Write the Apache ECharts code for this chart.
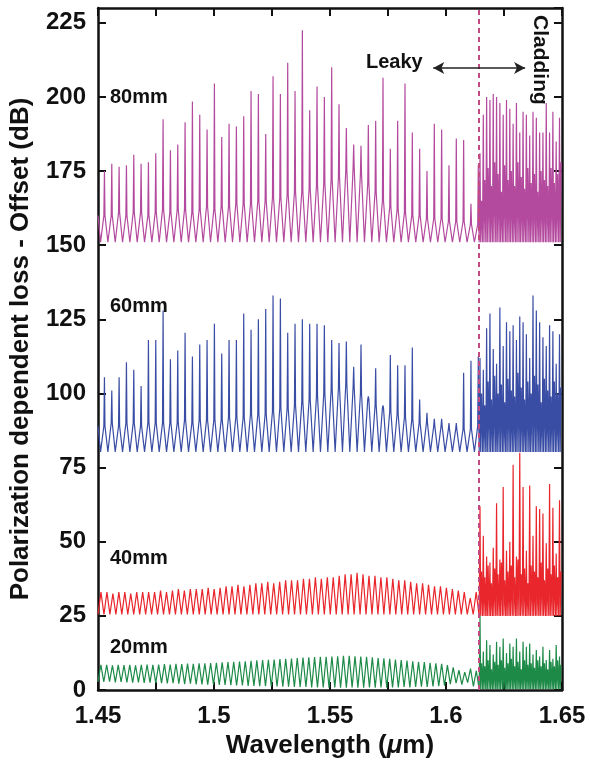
<!DOCTYPE html>
<html>
<head>
<meta charset="utf-8">
<script src="https://cdn.jsdelivr.net/npm/echarts@6/dist/echarts.min.js"></script>
<style>
  html, body { margin: 0; padding: 0; background: #fff; }
  #chart { width: 590px; height: 766px; }
</style>
</head>
<body>
<div id="chart"></div>
<script>
/**
 *  PDL spectra of the grating for four lengths (offset stacked)
 */

var X_MIN = 1.45, X_MAX = 1.65;
var CUT = 1.6143;            // leaky / cladding boundary (dashed line)
var xTicks = ['1.45', '1.5', '1.55', '1.6', '1.65'];

// ---- 80 mm (offset 150 dB) ----
var trough80 = 151;
var base80 = [160, 160, 161, 160, 161, 161, 160, 161, 162, 161,
              162, 162, 161, 162, 163, 162, 163, 163, 164, 164,
              164, 165, 165, 166, 166, 167, 168, 168, 169, 170,
              171, 172, 173, 175, 176, 174, 171, 168, 165, 163,
              162, 161, 160, 160, 159, 159, 159, 158, 158, 158, 157, 157];
var spike80 = [175, 177.5, 176.5, 177, 180.5, 177.5, 178, 181, 192.5, 182,
               184, 191.5, 198.5, 194, 189, 204.5, 186.5, 191, 190, 193.5,
               202, 201, 187.5, 207, 201, 211.5, 202, 222.5, 195.5, 203.5,
               200, 210, 197.5, 189.5, 184, 183.5, 190.5, 192, 206.5, 182.5,
               192, 204.5, 188, 182.5, 175, 191, 189, 177, 186, 185.5, 164, 177];
var cladTop80 = [181, 194, 200, 199, 201, 200, 198, 194, 199, 196, 191, 198, 188,
                 195, 194, 187, 195, 193, 188, 188, 198, 188, 195, 185, 193];
var cladMid80 = [165, 172, 176, 170, 178, 174, 168, 177, 172, 175, 170, 178, 173,
                 169, 176, 171, 174, 168, 175, 172, 170, 176, 171, 174, 178];

// ---- 60 mm (offset 80 dB) ----
var trough60 = 80.3;
var base60 = [89, 90, 89, 90, 90, 89, 90, 90, 90, 90,
              90, 91, 90, 91, 91, 91, 91, 92, 92, 92,
              93, 93, 93, 94, 95, 95, 96, 97, 98, 99,
              100, 101, 102, 103, 102, 100, 98, 96, 95, 94,
              93, 92, 91, 90, 90, 89, 89, 88, 88, 88, 88, 89];
var spike60 = [105.5, 101, 105.5, 110.5, 108, 102.5, 118, 118, 128, 111.5,
               114.5, 120.5, 112.5, 116.5, 118, 123.5, 113.5, 118, 118, 127,
               121.5, 125, 128.5, 133, 132, 120.5, 123.5, 125, 123.5, 123.5,
               123, 118, 117, 117.5, 109, 116.5, 99, 108.5, 96, 113,
               109.5, 109.5, 115.5, 98, 93.5, 91.5, 91.5, 90, 90, 107, 111, 112.5];
var cladTop60 = [112, 108, 122, 127, 115, 110, 129, 116, 124, 121, 123, 118, 126,
                 124, 120, 112, 133, 128, 124, 119, 116, 123, 121, 110, 120];
var cladMid60 = [100, 96, 104, 98, 106, 100, 103, 97, 105, 101, 99, 107, 102,
                 98, 104, 100, 106, 103, 97, 105, 101, 99, 104, 100, 102];

// ---- 40 mm (offset 25 dB) ----
var trough40 = 25.5;
var peak40 = [33, 33, 32.5, 33, 33, 32.5, 33, 33, 33, 33,
              33.5, 33, 33.5, 34, 33.5, 34, 34, 34, 34.5, 34,
              34.5, 35, 35, 35.5, 35, 35.5, 36, 36, 36.5, 36,
              36.5, 37, 37, 37, 37.5, 37.5, 38, 37.5, 38, 38,
              38.5, 39, 39, 39.5, 39, 38.5, 38.5, 38, 38, 37.5,
              37, 37, 36.5, 36, 36, 35.5, 35, 35, 34.5, 34,
              33.5, 33, 31, 33];
var cladTrough40 = 25;
var cladTop40 = [62, 52, 45, 43, 48, 63, 44, 68.5, 47, 50, 76, 45, 80,
                 68.5, 47, 69, 52, 62, 61, 59.5, 49.5, 69.5, 61.5, 46, 64];
var cladMid40 = [40, 38, 42, 36, 41, 39, 43, 37, 40, 42, 38, 44, 39,
                 41, 36, 42, 40, 38, 43, 37, 41, 39, 42, 38, 40];

// ---- 20 mm (no offset) ----
var trough20 = [2.8, 2.7, 2.8, 2.6, 2.7, 2.6, 2.5, 2.6, 2.4, 2.5,
                2.3, 2.3, 2.2, 2.3, 2.1, 2.0, 2.1, 1.9, 1.9, 1.8,
                1.8, 1.7, 1.7, 1.6, 1.5, 1.5, 1.4, 1.4, 1.3, 1.3,
                1.2, 1.2, 1.1, 1.1, 1.0, 1.0, 1.0, 0.9, 0.9, 0.9,
                0.8, 0.9, 0.8, 0.8, 0.9, 0.8, 0.8, 0.9, 0.8, 0.9,
                0.8, 0.9, 0.9, 1.0, 0.9, 1.0, 1.1, 1.0, 1.2, 1.3,
                1.5, 2.0, 2.3, 1.8, 2.5, 1.2];
var peak20 = [8.5, 8.5, 8.3, 8.5, 8.4, 8.5, 8.3, 8.5, 8.6, 8.5,
              8.6, 8.7, 8.6, 8.8, 8.7, 8.9, 8.8, 9.0, 9.0, 9.1,
              9.2, 9.3, 9.4, 9.5, 9.6, 9.7, 9.8, 10.0, 10.1, 10.2,
              10.3, 10.4, 10.5, 10.6, 10.8, 10.9, 11.0, 11.1, 11.2, 11.2,
              11.3, 11.4, 11.5, 11.5, 11.4, 11.3, 11.2, 11.0, 10.8, 10.7,
              10.5, 10.3, 10.1, 9.9, 9.7, 9.5, 9.4, 9.2, 9.0, 8.8,
              8.4, 7.6, 6.7, 6.0, 7.2, 6.5];
var cladTrough20 = 0.3;
var cladTop20 = [25, 13, 16.8, 15.2, 12, 16.3, 14.6, 17.4, 12.5, 15.7, 14.6, 17.4, 13,
                 16.3, 14.6, 15.7, 12, 13.5, 11.3, 14.6, 10.1, 13.5, 10.5, 15.2, 11.3];
var cladMid20 = [9, 8, 10, 7, 9.5, 8.5, 10, 7.5, 9, 10.5, 8, 9.5, 7,
                 10, 8.5, 9, 7.5, 10, 8, 9, 7, 9.5, 8, 10, 8.5];

var labels = ['80mm', '60mm', '40mm', '20mm'];
var colors = ['#b44a9e', '#3a4da5', '#e8262c', '#1d8a48'];

// annotation anchors (data coords)
var ARROW_FROM = [1.5945, 209.8], ARROW_TO = [1.6341, 209.8];

// cladding part: two strokes per fringe (top, then mid)
function addClad(pts, low, top, mid) {
    var w = (X_MAX - CUT) / top.length;
    for (var i = 0; i < top.length; i++) {
        var x0 = CUT + i * w;
        pts.push([x0, low]);
        pts.push([x0 + 0.25 * w, top[i]]);
        pts.push([x0 + 0.45 * w, low]);
        pts.push([x0 + 0.7 * w, mid[i]]);
    }
    return pts;
}

// leaky part with a sharp resonance on every fringe
function spiky(low, base, spike) {
    var w = (CUT - X_MIN) / base.length;
    var pts = [[X_MIN, base[0]]];
    for (var i = 0; i < base.length; i++) {
        var x0 = X_MIN + i * w;
        pts.push([x0 + 0.35 * w, low]);
        pts.push([x0 + 0.8 * w, base[i]]);
        pts.push([x0 + 0.88 * w, spike[i]]);
        pts.push([x0 + 0.95 * w, base[i]]);
    }
    return pts;
}

// leaky part, plain fringes
function fringes(low, peak) {
    var w = (CUT - X_MIN) / peak.length;
    var pts = [];
    for (var i = 0; i < peak.length; i++) {
        var lo = Array.isArray(low) ? low[i] : low;
        pts.push([X_MIN + i * w, lo]);
        pts.push([X_MIN + (i + 0.5) * w, peak[i]]);
    }
    return pts;
}

var data80 = addClad(spiky(trough80, base80, spike80), trough80, cladTop80, cladMid80);
var data60 = addClad(spiky(trough60, base60, spike60), trough60, cladTop60, cladMid60);
var data40 = addClad(fringes(trough40, peak40), cladTrough40, cladTop40, cladMid40);
var data20 = addClad(fringes(trough20, peak20), cladTrough20, cladTop20, cladMid20);

var FONT = "'Liberation Sans', Arial, Helvetica, sans-serif";

var chart = echarts.init(document.getElementById('chart'), null, { renderer: 'canvas' });

function frameAxis(pos, isX) {
    var ax = {
        type: 'value',
        position: pos,
        axisLine: { show: true, onZero: false, lineStyle: { color: '#111', width: 2.5 } },
        axisTick: { show: true, inside: true, length: 8, lineStyle: { color: '#111', width: 2 } },
        axisLabel: { show: false },
        splitLine: { show: false }
    };
    if (isX) { ax.min = X_MIN; ax.max = X_MAX; ax.interval = 0.025; }
    else { ax.min = 0; ax.max = 230; ax.interval = 25; }
    return ax;
}

var xBottom = frameAxis('bottom', true);
xBottom.axisLabel = {
    show: true, margin: 14, color: '#111', fontFamily: FONT, fontWeight: 'bold', fontSize: 24,
    formatter: function (v) {
        var k = Math.round(v * 1000);
        return k % 50 === 0 ? xTicks[(k - 1450) / 50] : '';
    }
};
xBottom.name = 'Wavelength ({i|\u03bc}m)';
xBottom.nameLocation = 'middle';
xBottom.nameGap = 38;
xBottom.nameTextStyle = {
    color: '#111', fontFamily: FONT, fontWeight: 'bold', fontSize: 26,
    rich: { i: { fontFamily: FONT, fontWeight: 'bold', fontStyle: 'italic', fontSize: 26, color: '#111' } }
};

var yLeft = frameAxis('left', false);
yLeft.axisLabel = {
    show: true, margin: 12, color: '#111', fontFamily: FONT, fontWeight: 'bold', fontSize: 24,
    showMaxLabel: false
};
yLeft.name = 'Polarization dependent loss - Offset (dB)';
yLeft.nameLocation = 'middle';
yLeft.nameRotate = 90;
yLeft.nameGap = 64;
yLeft.nameTextStyle = { color: '#111', fontFamily: FONT, fontWeight: 'bold', fontSize: 26 };

function line(name, data, color) {
    return {
        name: name, type: 'line', data: data,
        showSymbol: false, symbol: 'none', sampling: 'none',
        lineStyle: { color: color, width: 1.2 },
        z: 3
    };
}

var series = [
    line(labels[0], data80, colors[0]),
    line(labels[1], data60, colors[1]),
    line(labels[2], data40, colors[2]),
    line(labels[3], data20, colors[3])
];

// boundary between leaky and cladding modes
series[0].markLine = {
    silent: true, symbol: 'none', precision: 4, label: { show: false },
    lineStyle: { color: '#c24a80', width: 2, type: [5, 4] },
    data: [{ xAxis: CUT }]
};
// double arrow
series[1].markLine = {
    silent: true, symbol: ['arrow', 'arrow'], symbolSize: [9, 11], precision: 4, label: { show: false },
    lineStyle: { color: '#222', width: 1.5, type: 'solid' },
    data: [[{ coord: ARROW_FROM }, { coord: ARROW_TO }]]
};

function txt(text, x, y, size, rot) {
    return {
        type: 'text', x: x, y: y, rotation: rot || 0, z: 10,
        style: {
            text: text, x: 0, y: 0, fill: '#111',
            font: 'bold ' + size + 'px ' + FONT,
            align: 'left', verticalAlign: 'middle',
            textAlign: 'left', textVerticalAlign: 'middle'
        }
    };
}

option = {
    backgroundColor: '#fff',
    animation: false,
    grid: { left: 97, right: 28, top: 8, bottom: 76, containLabel: false },
    xAxis: [xBottom, frameAxis('top', true)],
    yAxis: [yLeft, frameAxis('right', false)],
    series: series,
    graphic: [
        txt(labels[0], 110, 97, 20),
        txt(labels[1], 110, 306, 20),
        txt(labels[2], 110, 558, 20),
        txt(labels[3], 110, 647, 20),
        txt('Leaky', 366, 62, 20),
        txt('Cladding', 540, 15, 21, -Math.PI / 2)
    ]
};

chart.setOption(option);
</script>
</body>
</html>
